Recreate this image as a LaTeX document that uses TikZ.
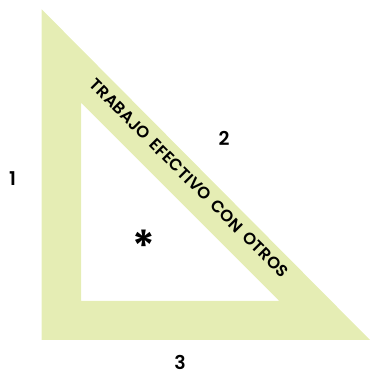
\documentclass[tikz,border=0pt]{standalone}
\usepackage{fontspec}
\setmainfont{Poppins}[BoldFont={Poppins SemiBold}]
\newfontfamily\lemafont{Poppins SemiBold}[LetterSpace=1.5, WordSpace=1.6]
\usepackage[dvipsnames, svgnames]{xcolor}
\usepackage{tikz}
\usetikzlibrary{calc}

\definecolor{escuadra}{RGB}{229,237,180}

\begin{document}
\begin{tikzpicture}[x=1pt,y=1pt]
            \useasboundingbox (0,0) rectangle (370,371);
            \fill[escuadra, even odd rule] (41.7,361.7)--(41.7,31)--(370,31)--cycle
                                           (81,268.3)--(81,70)--(279.3,70)--cycle;
            \node[rotate=-45, font=\lemafont\fontsize{16.5}{18}\selectfont] (lema) at (189.2,192.7) {TRABAJO EFECTIVO CON OTROS};
            \node[font=\bfseries\fontsize{19}{21}\selectfont] (uno) at (12.5,192) {1};
            \node[font=\bfseries\fontsize{19}{21}\selectfont] (dos) at (224,233) {2};
            \node[font=\bfseries\fontsize{19}{21}\selectfont] (tres) at (180,9) {3};
            \node[font=\bfseries\fontsize{44}{48}\selectfont] (ast) at (144,125) {*};
        \end{tikzpicture}
\end{document}
